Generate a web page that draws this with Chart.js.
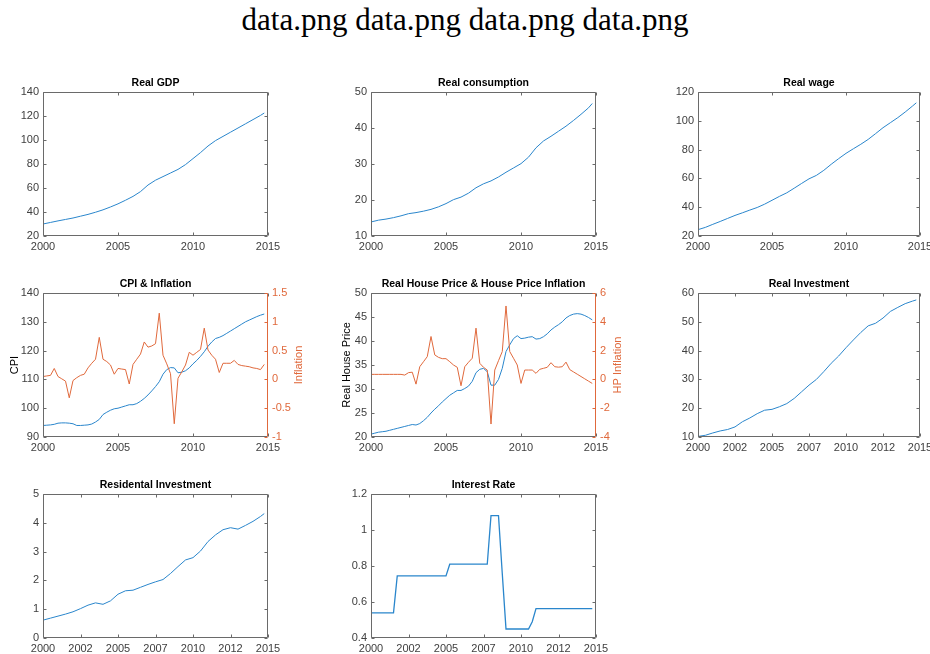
<!DOCTYPE html>
<html>
<head>
<meta charset="utf-8">
<script src="https://cdn.jsdelivr.net/npm/chart.js@4.4.1/dist/chart.umd.min.js"></script>
<style>
  html, body { margin: 0; padding: 0; background: #fff; overflow: hidden; }
  body { width: 930px; height: 654px; position: relative; }
  #fig-title {
    position: absolute; left: 0; top: 2px; width: 930px; text-align: center;
    font-family: "Liberation Serif", "Times New Roman", serif; font-size: 31px; line-height: 36px; color: #000;
  }
  canvas { position: absolute; }
</style>
</head>
<body>
<div id="fig-title">data.png data.png data.png data.png</div>
<script>
// ---- data ----
var quarters = [];
for (var q = 0; q < 60; q++) quarters.push(2000 + q / 4);
var halfYears = [];
for (var h = 0; h < 30; h++) halfYears.push(2000 + h / 2);
halfYears.push(2014.75);

var realGdp = [30.0, 31.3, 32.6, 33.8, 35.0, 36.5, 38.0, 39.8, 41.8, 44.2, 46.8, 49.8, 53.0, 57.0, 62.5, 66.5,
  69.5, 72.5, 75.5, 79.5, 84.5, 89.5, 95.0, 99.5, 103.0, 106.5, 110.0, 113.5, 117.0, 120.5, 122.5];
var realConsumption = [13.9, 14.4, 14.7, 15.1, 15.6, 16.2, 16.5, 16.9, 17.4, 18.1, 19.0, 20.1, 20.8, 21.9, 23.4, 24.5,
  25.3, 26.4, 27.7, 28.9, 30.1, 31.9, 34.5, 36.4, 37.7, 39.1, 40.5, 42.1, 43.8, 45.6, 46.8];
var realWage = [24.4, 26.0, 28.1, 30.1, 32.2, 34.3, 36.1, 38.0, 39.8, 42.1, 44.8, 47.5, 50.0, 53.2, 56.5, 59.7,
  62.1, 65.6, 69.8, 73.7, 77.4, 80.6, 83.7, 87.1, 91.1, 95.2, 98.7, 102.2, 106.1, 110.3, 112.5];
var realInvestment = [10.2, 10.6, 11.4, 12.1, 12.6, 13.5, 15.3, 16.6, 18.1, 19.3, 19.6, 20.5, 21.6, 23.4, 25.7, 28.0,
  30.0, 32.7, 35.6, 38.1, 41.0, 43.7, 46.3, 48.6, 49.5, 51.3, 53.6, 55.0, 56.3, 57.2, 57.6];
var resInvestment = [0.62, 0.69, 0.76, 0.83, 0.91, 1.02, 1.14, 1.22, 1.17, 1.29, 1.52, 1.64, 1.66, 1.76, 1.86, 1.95,
  2.03, 2.24, 2.48, 2.71, 2.79, 3.02, 3.35, 3.58, 3.76, 3.83, 3.78, 3.91, 4.05, 4.22, 4.32];

var cpi = [94.0, 94.1, 94.2, 94.4, 94.8, 94.9, 94.9, 94.8, 94.6, 94.0, 94.0, 94.1, 94.2, 94.5, 95.2, 96.1,
  97.8, 98.6, 99.3, 99.8, 100.0, 100.4, 100.8, 101.2, 101.2, 101.6, 102.4, 103.4, 104.6, 106.0, 107.5, 109.2,
  111.8, 113.4, 114.1, 114.0, 112.3, 112.5, 113.0, 114.0, 115.4, 116.6, 118.0, 119.6, 121.5, 123.0, 124.2, 124.6,
  125.2, 126.0, 126.8, 127.6, 128.4, 129.2, 130.0, 130.6, 131.2, 131.8, 132.3, 132.7];
var inflation = [0.05, 0.06, 0.07, 0.19, 0.05, 0.01, -0.03, -0.32, -0.02, 0.03, 0.07, 0.09, 0.20, 0.28, 0.35, 0.73,
  0.35, 0.31, 0.25, 0.09, 0.19, 0.18, 0.17, -0.08, 0.26, 0.35, 0.44, 0.65, 0.56, 0.58, 0.62, 1.15,
  0.42, 0.27, 0.10, -0.77, 0.02, 0.13, 0.25, 0.47, 0.42, 0.47, 0.52, 0.89, 0.51, 0.42, 0.35, 0.12,
  0.28, 0.28, 0.28, 0.33, 0.26, 0.24, 0.23, 0.22, 0.20, 0.19, 0.17, 0.26];
var housePrice = [20.6, 20.8, 21.0, 21.1, 21.2, 21.4, 21.6, 21.8, 22.0, 22.2, 22.4, 22.6, 22.5, 22.8, 23.4, 24.1,
  25.0, 25.8, 26.5, 27.3, 28.0, 28.7, 29.2, 29.7, 29.7, 30.1, 30.6, 31.6, 33.4, 34.1, 34.3, 33.6,
  30.8, 30.8, 32.0, 34.3, 37.8, 39.2, 40.5, 41.1, 40.5, 40.6, 40.8, 40.9, 40.4, 40.5, 40.9, 41.5,
  42.3, 42.9, 43.4, 44.0, 44.8, 45.3, 45.6, 45.7, 45.6, 45.3, 44.9, 44.4];
var hpInflation = [0.35, 0.35, 0.35, 0.35, 0.35, 0.35, 0.35, 0.35, 0.35, 0.30, 0.47, 0.50, -0.33, 0.88, 1.23, 1.58,
  2.98, 1.70, 1.53, 1.44, 1.44, 1.23, 1.00, 0.84, -0.44, 0.88, 1.19, 1.47, 3.56, 1.12, 0.84, 0.65,
  -3.10, 0.65, 1.30, 1.93, 5.10, 1.93, 1.47, 1.00, -0.28, 0.65, 0.65, 0.65, 0.42, 0.70, 0.77, 0.84,
  1.16, 0.88, 0.85, 0.88, 1.20, 0.68, 0.52, 0.36, 0.20, 0.04, -0.12, -0.28];
var interestRate = [0.54, 0.54, 0.54, 0.54, 0.54, 0.54, 0.54, 0.745, 0.745, 0.745, 0.745, 0.745, 0.745, 0.745, 0.745, 0.745,
  0.745, 0.745, 0.745, 0.745, 0.745, 0.81, 0.81, 0.81, 0.81, 0.81, 0.81, 0.81, 0.81, 0.81, 0.81, 0.81,
  1.08, 1.08, 1.08, 0.76, 0.45, 0.45, 0.45, 0.45, 0.45, 0.45, 0.45, 0.49, 0.563, 0.563, 0.563, 0.563,
  0.563, 0.563, 0.563, 0.563, 0.563, 0.563, 0.563, 0.563, 0.563, 0.563, 0.563, 0.563];

// ---- look ----
var BLUE = '#2a86cc';
var ORANGE = '#e0693c';
var TEXT = '#404040';
var FRAME = '#6a6a6a';
var FONT = '"Liberation Sans", Arial, sans-serif';
Chart.defaults.font.family = FONT;

function pts(xs, ys) {
  return xs.map(function (x, i) { return { x: x, y: ys[i] }; });
}

function numLabel(v) { return String(parseFloat(v.toFixed(3))); }

// MATLAB-like box with inward ticks, and the right-hand ylabel
var framePlugin = {
  id: 'frame',
  afterDraw: function (chart, args, opts) {
    var ctx = chart.ctx, a = chart.chartArea;
    var sx = chart.scales.x, sy = chart.scales.y, sy2 = chart.scales.y2;
    var L = Math.round(a.left) + 0.5, R = Math.round(a.right) - 0.5;
    var T = Math.round(a.top) + 0.5, B = Math.round(a.bottom) - 0.5;
    var tl = 3;
    ctx.save();
    ctx.lineWidth = 1;
    function seg(x1, y1, x2, y2, c) {
      ctx.strokeStyle = c;
      ctx.beginPath(); ctx.moveTo(x1, y1); ctx.lineTo(x2, y2); ctx.stroke();
    }
    seg(L, T, R, T, FRAME);
    seg(L, B, R, B, FRAME);
    seg(L, T, L, B, FRAME);
    seg(R, T, R, B, sy2 ? ORANGE : FRAME);
    sx.ticks.forEach(function (t) {
      var p = Math.round(sx.getPixelForValue(t.value)) + 0.5;
      seg(p, B, p, B - tl, FRAME);
      seg(p, T, p, T + tl, FRAME);
    });
    sy.ticks.forEach(function (t) {
      var p = Math.round(sy.getPixelForValue(t.value)) + 0.5;
      seg(L, p, L + tl, p, FRAME);
      if (!sy2) seg(R, p, R - tl, p, FRAME);
    });
    if (sy2) {
      sy2.ticks.forEach(function (t) {
        var p = Math.round(sy2.getPixelForValue(t.value)) + 0.5;
        seg(R, p, R - tl, p, ORANGE);
      });
    }
    if (opts && opts.rightTitle) {
      ctx.translate(a.right + opts.rightOffset, (a.top + a.bottom) / 2);
      ctx.rotate(-Math.PI / 2);
      ctx.fillStyle = ORANGE;
      ctx.font = '11px ' + FONT;
      ctx.textAlign = 'center';
      ctx.textBaseline = 'middle';
      ctx.fillText(opts.rightTitle, 0, 0);
    }
    ctx.restore();
  }
};

function makePanel(p) {
  var padT = 16, padB = 20;
  var canvas = document.createElement('canvas');
  canvas.width = p.w + p.padL + p.padR;
  canvas.height = p.h + padT + padB;
  canvas.style.left = (p.x - p.padL) + 'px';
  canvas.style.top = (p.y - padT) + 'px';
  document.body.appendChild(canvas);

  var dual = !!p.y2;
  var datasets = [{
    data: p.data, yAxisID: 'y', borderColor: BLUE, borderWidth: p.lw || 1,
    pointRadius: 0, tension: 0, fill: false, order: 1
  }];
  if (dual) {
    datasets.push({
      data: p.y2.data, yAxisID: 'y2', borderColor: ORANGE, borderWidth: 1,
      pointRadius: 0, tension: 0, fill: false, order: 0
    });
  }

  var noGrid = { display: false, drawTicks: false };
  var scales = {
    x: {
      type: 'linear', min: 2000, max: 2015,
      grid: noGrid, border: { display: false },
      ticks: {
        stepSize: p.xStep, autoSkip: false, maxRotation: 0, padding: 4, color: TEXT,
        font: { size: 11 },
        callback: function (v) { return String(Math.floor(v)); }
      },
      afterFit: function (s) { s.height = padB; s.paddingLeft = 0; s.paddingRight = 0; }
    },
    y: {
      position: 'left', min: p.yMin, max: p.yMax,
      grid: noGrid, border: { display: false },
      ticks: { stepSize: p.yStep, padding: 4, color: TEXT, font: { size: 11 }, callback: numLabel },
      title: p.yTitle ? {
        display: true, text: p.yTitle, color: '#000',
        font: { size: 11, lineHeight: '12px' }, padding: { top: p.yTitlePad, bottom: 0 }
      } : { display: false },
      afterFit: function (s) { s.width = p.padL; s.paddingTop = 0; s.paddingBottom = 0; }
    }
  };
  if (dual) {
    scales.y2 = {
      position: 'right', min: p.y2.min, max: p.y2.max,
      grid: noGrid, border: { display: false },
      ticks: { stepSize: p.y2.step, padding: 4, color: ORANGE, font: { size: 11 }, callback: numLabel },
      afterFit: function (s) { s.width = p.padR; s.paddingTop = 0; s.paddingBottom = 0; }
    };
  }

  return new Chart(canvas.getContext('2d'), {
    type: 'line',
    data: { datasets: datasets },
    options: {
      responsive: false,
      animation: false,
      devicePixelRatio: 1,
      layout: { padding: { left: 0, right: dual ? 0 : p.padR, top: 0, bottom: 0 } },
      scales: scales,
      plugins: {
        legend: { display: false },
        tooltip: { enabled: false },
        title: {
          display: true, text: p.title, color: '#000', fullSize: false,
          font: { size: 10.5, weight: 'bold', lineHeight: '13px' },
          padding: { top: 1, bottom: 2 }
        },
        frame: dual ? { rightTitle: p.y2.title, rightOffset: p.y2.offset } : {}
      }
    },
    plugins: [framePlugin]
  });
}

makePanel({ title: 'Real GDP', x: 43, y: 92, w: 225, h: 144, padL: 43, padR: 15, xStep: 5,
  data: pts(halfYears, realGdp), yMin: 20, yMax: 140, yStep: 20 });
makePanel({ title: 'Real consumption', x: 371, y: 92, w: 225, h: 144, padL: 41, padR: 15, xStep: 5,
  data: pts(halfYears, realConsumption), yMin: 10, yMax: 50, yStep: 10 });
makePanel({ title: 'Real wage', x: 698, y: 92, w: 222, h: 144, padL: 48, padR: 10, xStep: 5,
  data: pts(halfYears, realWage), yMin: 20, yMax: 120, yStep: 20 });

makePanel({ title: 'CPI & Inflation', x: 43, y: 293, w: 225, h: 144, padL: 43, padR: 40, xStep: 5,
  data: pts(quarters, cpi), yMin: 90, yMax: 140, yStep: 10, yTitle: 'CPI', yTitlePad: 9,
  y2: { data: pts(quarters, inflation), min: -1, max: 1.5, step: 0.5, title: 'Inflation', offset: 31 } });
makePanel({ title: 'Real House Price & House Price Inflation', x: 371, y: 293, w: 225, h: 144, padL: 41, padR: 30, xStep: 5,
  data: pts(quarters, housePrice), yMin: 20, yMax: 50, yStep: 5, yTitle: 'Real House Price', yTitlePad: 11,
  y2: { data: pts(quarters, hpInflation), min: -4, max: 6, step: 2, title: 'HP Inflation', offset: 22 } });
makePanel({ title: 'Real Investment', x: 698, y: 293, w: 222, h: 144, padL: 48, padR: 10, xStep: 2.5,
  data: pts(halfYears, realInvestment), yMin: 10, yMax: 60, yStep: 10 });

makePanel({ title: 'Residental Investment', x: 43, y: 494, w: 225, h: 144, padL: 43, padR: 15, xStep: 2.5,
  data: pts(halfYears, resInvestment), yMin: 0, yMax: 5, yStep: 1 });
makePanel({ title: 'Interest Rate', x: 371, y: 494, w: 225, h: 144, padL: 41, padR: 15, xStep: 2.5,
  data: pts(quarters, interestRate), yMin: 0.4, yMax: 1.2, yStep: 0.2, lw: 1.3 });
</script>
</body>
</html>
